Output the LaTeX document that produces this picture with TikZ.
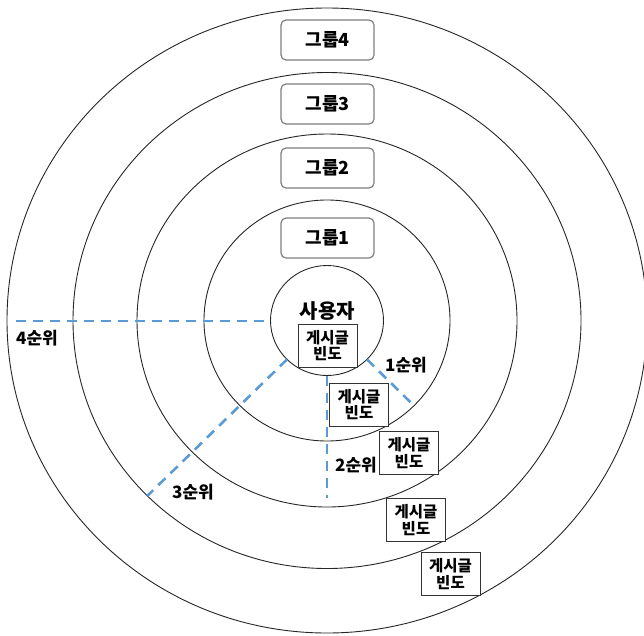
\documentclass[tikz,border=0pt]{standalone}
\usepackage{fontspec}
\setmainfont{Noto Sans CJK KR}
\usetikzlibrary{calc}
\definecolor{dashblue}{HTML}{5B9BD5}
\definecolor{grpgray}{HTML}{7F7F7F}
\tikzset{
  ring/.style={draw=black!85, line width=0.9pt},
  rank/.style={draw=dashblue, line width=2.6pt, dash pattern=on 10pt off 7pt},
  groupbox/.style={draw=grpgray, line width=1.2pt, rounded corners=5pt, fill=white,
    minimum width=93pt, minimum height=40pt, inner sep=0pt, font=\fontsize{18}{20}\selectfont\bfseries},
  freqbox/.style={draw=black!80, line width=1pt, fill=white, minimum width=59pt, minimum height=43pt,
    inner sep=0pt, align=center, font=\fontsize{15.5}{16.5}\selectfont\bfseries},
  ranklabel/.style={inner sep=0pt, font=\fontsize{17}{19}\selectfont\bfseries},
}
\begin{document}
\begin{tikzpicture}[x=1pt,y=-1pt]
\useasboundingbox (0,0) rectangle (644,635);
\coordinate (c) at (327,320.5);
% rings
\draw[ring] (c) ellipse [x radius=320pt, y radius=312.5pt];
\draw[ring] (c) ellipse [x radius=254pt, y radius=248pt];
\draw[ring] (c) ellipse [x radius=190pt, y radius=186.5pt];
\draw[ring] (c) ellipse [x radius=123pt, y radius=120.5pt];
\draw[ring] (c) ellipse [x radius=56.5pt, y radius=55pt];
% rank line end points
\coordinate (r4a) at ($(c)+(180:56.5pt and 55pt)$);
\coordinate (r4b) at (16,321);
\coordinate (r3a) at ($(c)+(225:56.5pt and 55pt)$);
\coordinate (r3b) at ($(c)+(225:254pt and 248pt)$);
\coordinate (r2a) at ($(c)+(270:56.5pt and 55pt)$);
\coordinate (r2b) at (327,498);
\coordinate (r1a) at ($(c)+(-45:56.5pt and 55pt)$);
\coordinate (r1b) at ($(c)+(-45:123pt and 120.5pt)$);
\draw[rank] (r4b) -- (r4a |- r4b);
\draw[rank] (r3a) -- (r3b);
\draw[rank] (r2a) -- (r2b);
\draw[rank] (r1a) -- (r1b);
% groups
\node[groupbox] (g4) at (327.5,40) {그룹4};
\node[groupbox] (g3) at (327.5,104) {그룹3};
\node[groupbox] (g2) at (327.5,168) {그룹2};
\node[groupbox] (g1) at (327.5,238) {그룹1};
% user
\node[inner sep=0pt, font=\fontsize{20}{22}\selectfont\bfseries] (user) at (327.5,311) {사용자};
% frequency boxes
\node[freqbox] (f1) at (327.5,345.5) {게시글\\빈도};
\node[freqbox] (f2) at (359,404.5) {게시글\\빈도};
\node[freqbox] (f3) at (409,453) {게시글\\빈도};
\node[freqbox] (f4) at (416,520) {게시글\\빈도};
\node[freqbox] (f5) at (450.5,574) {게시글\\빈도};
% rank labels
\node[ranklabel] (l4) at (37,338) {4순위};
\node[ranklabel] (l3) at (193,492) {3순위};
\node[ranklabel] (l2) at (356,465) {2순위};
\node[ranklabel] (l1) at (406,365) {1순위};
\end{tikzpicture}
\end{document}
